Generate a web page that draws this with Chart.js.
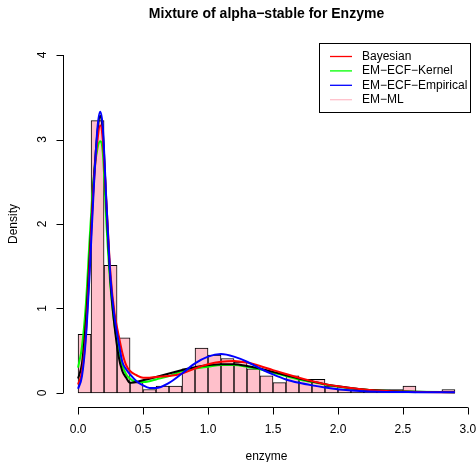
<!DOCTYPE html>
<html>
<head>
<meta charset="utf-8">
<script src="https://cdn.jsdelivr.net/npm/chart.js@4/dist/chart.umd.min.js"></script>
<style>
  html, body { margin: 0; padding: 0; background: #fff; }
  #wrap { width: 476px; height: 462px; position: relative; }
</style>
</head>
<body>
<div id="wrap"><canvas id="chart"></canvas></div>
<script>
// histogram of enzyme (bin edges and densities)
const breaks = [0, 0.1, 0.2, 0.3, 0.4, 0.5, 0.6, 0.7, 0.8, 0.9, 1.0, 1.1, 1.2, 1.3, 1.4,
  1.5, 1.6, 1.7, 1.8, 1.9, 2.0, 2.1, 2.2, 2.3, 2.4, 2.5, 2.6, 2.7, 2.8, 2.9];
const density = [0.694, 3.224, 1.510, 0.653, 0.122, 0.041, 0.082, 0.082, 0.286, 0.531,
  0.449, 0.408, 0.367, 0.286, 0.204, 0.122, 0.204, 0.163, 0.163, 0.082,
  0.041, 0.041, 0.041, 0.041, 0.041, 0.082, 0, 0, 0.041];

// fitted densities
const gridX = [0, 0.03, 0.06, 0.09, 0.12, 0.15, 0.17, 0.19, 0.22, 0.25, 0.28, 0.31, 0.34,
  0.37, 0.40, 0.45, 0.5, 0.55, 0.6, 0.7, 0.8, 0.9, 1.0, 1.1, 1.2, 1.3, 1.4, 1.5, 1.6,
  1.7, 1.8, 1.9, 2.0, 2.2, 2.4, 2.6, 2.9];
const bayesian = [0.1, 0.25, 0.7, 1.55, 2.45, 3.0, 3.17, 3.0, 2.2, 1.4, 0.95, 0.7, 0.48,
  0.33, 0.26, 0.21, 0.18, 0.18, 0.19, 0.2, 0.23, 0.29, 0.34, 0.37, 0.38, 0.36, 0.32,
  0.27, 0.225, 0.18, 0.14, 0.105, 0.08, 0.04, 0.02, 0.012, 0.008];
const kernel = [0.3, 0.55, 1.05, 1.85, 2.55, 2.9, 2.98, 2.85, 1.95, 1.25, 0.8, 0.55, 0.33,
  0.22, 0.17, 0.13, 0.13, 0.14, 0.16, 0.2, 0.26, 0.29, 0.31, 0.33, 0.33, 0.31, 0.28,
  0.24, 0.2, 0.16, 0.13, 0.1, 0.075, 0.04, 0.022, 0.014, 0.01];
const empirical = [0.05, 0.2, 0.65, 1.45, 2.4, 3.15, 3.33, 3.15, 2.2, 1.35, 0.9, 0.62, 0.37,
  0.28, 0.22, 0.14, 0.09, 0.06, 0.06, 0.12, 0.23, 0.35, 0.43, 0.46, 0.43, 0.37, 0.29,
  0.22, 0.16, 0.12, 0.09, 0.065, 0.045, 0.02, 0.012, 0.01, 0.008];
const mlX = [0, 0.03, 0.06, 0.09, 0.12, 0.15, 0.17, 0.19, 0.22, 0.25, 0.28, 0.31, 0.34,
  0.37, 0.40, 0.47, 0.85, 0.95, 1.1, 1.2, 1.3, 1.4, 1.5, 1.6, 1.7, 1.8, 1.9, 2.0,
  2.2, 2.4, 2.6, 2.9];
const emML = [0.17, 0.35, 0.85, 1.65, 2.5, 3.1, 3.28, 3.1, 2.15, 1.3, 0.8, 0.45, 0.26,
  0.18, 0.12, 0.14, 0.29, 0.32, 0.34, 0.34, 0.32, 0.29, 0.25, 0.21, 0.17, 0.135, 0.105,
  0.08, 0.042, 0.023, 0.014, 0.01];

const xTicks = [0, 0.5, 1.0, 1.5, 2.0, 2.5, 3.0];
const xTickLabels = ["0.0", "0.5", "1.0", "1.5", "2.0", "2.5", "3.0"];
const yTicks = [0, 1, 2, 3, 4];
const yTickLabels = ["0", "1", "2", "3", "4"];

const legendNames = ["Bayesian", "EM\u2212ECF\u2212Kernel", "EM\u2212ECF\u2212Empirical", "EM\u2212ML"];
const legendColors = ["#ff0000", "#00ff00", "#0000ff", "#ffc0cb"];

const FONT = '"Liberation Sans", Arial, Helvetica, sans-serif';

function pts(xs, ys) {
  return xs.map((x, i) => ({ x: x, y: ys[i] }));
}

function curve(label, xs, ys, color, order) {
  return {
    type: "line", label: label, data: pts(xs, ys), borderColor: color,
    borderWidth: 2, pointRadius: 0, fill: false, order: order,
    cubicInterpolationMode: "monotone",
  };
}

const histData = density.map((d, i) => ({ x: (breaks[i] + breaks[i + 1]) / 2, y: d }));

// R-style axes, title and legend drawn on top of the chart area
const rDecor = {
  id: "rDecor",
  afterDraw(chart) {
    const ctx = chart.ctx;
    const xs = chart.scales.x, ys = chart.scales.y;
    const area = chart.chartArea;
    const cx = (area.left + area.right) / 2;
    ctx.save();
    ctx.strokeStyle = "#000";
    ctx.fillStyle = "#000";
    ctx.lineWidth = 1;

    // x axis
    const axY = Math.round(area.bottom) + 0.5;
    ctx.beginPath();
    ctx.moveTo(xs.getPixelForValue(xTicks[0]), axY);
    ctx.lineTo(xs.getPixelForValue(xTicks[xTicks.length - 1]), axY);
    xTicks.forEach((t) => {
      const px = Math.round(xs.getPixelForValue(t)) + 0.5;
      ctx.moveTo(px, axY);
      ctx.lineTo(px, axY + 7);
    });
    ctx.stroke();
    ctx.font = "12px " + FONT;
    ctx.textAlign = "center";
    ctx.textBaseline = "middle";
    xTicks.forEach((t, i) => ctx.fillText(xTickLabels[i], xs.getPixelForValue(t), axY + 22));
    ctx.fillText("enzyme", cx, axY + 49);

    // y axis
    const axX = Math.round(area.left) + 0.5;
    ctx.beginPath();
    ctx.moveTo(axX, ys.getPixelForValue(yTicks[0]));
    ctx.lineTo(axX, ys.getPixelForValue(yTicks[yTicks.length - 1]));
    yTicks.forEach((t) => {
      const py = Math.round(ys.getPixelForValue(t)) + 0.5;
      ctx.moveTo(axX, py);
      ctx.lineTo(axX - 7, py);
    });
    ctx.stroke();
    yTicks.forEach((t, i) => {
      ctx.save();
      ctx.translate(axX - 21, ys.getPixelForValue(t));
      ctx.rotate(-Math.PI / 2);
      ctx.fillText(yTickLabels[i], 0, 0);
      ctx.restore();
    });
    ctx.save();
    ctx.translate(14, (area.top + area.bottom) / 2);
    ctx.rotate(-Math.PI / 2);
    ctx.fillText("Density", 0, 0);
    ctx.restore();

    // title
    ctx.font = "bold 14px " + FONT;
    ctx.fillText("Mixture of alpha\u2212stable for Enzyme", cx, 14);

    // legend box (top right)
    const bx = 319.5, by = 43.5, bw = 151, bh = 69;
    ctx.strokeStyle = "#000";
    ctx.strokeRect(bx, by, bw, bh);
    ctx.font = "12px " + FONT;
    ctx.textAlign = "left";
    legendNames.forEach((name, i) => {
      const ly = 56.5 + i * 14.4;
      ctx.strokeStyle = legendColors[i];
      ctx.lineWidth = 1.3;
      ctx.beginPath();
      ctx.moveTo(330, ly);
      ctx.lineTo(352, ly);
      ctx.stroke();
      ctx.fillStyle = "#000";
      ctx.fillText(name, 362, ly);
    });
    ctx.restore();
  },
};

new Chart(document.getElementById("chart"), {
  type: "bar",
  data: {
    datasets: [
      curve("EM-ECF-Empirical", gridX, empirical, "#0000ff", 1),
      curve("Bayesian", gridX, bayesian, "#ff0000", 2),
      curve("EM-ML", mlX, emML, "#000000", 3),
      curve("EM-ECF-Kernel", gridX, kernel, "#00ff00", 4),
      {
        type: "bar", label: "enzyme", data: histData, order: 5,
        backgroundColor: "#ffc0cb", borderColor: "#000", borderWidth: 1,
        borderSkipped: false, barPercentage: 1, categoryPercentage: 1, grouped: false,
      },
    ],
  },
  options: {
    responsive: true, maintainAspectRatio: false, animation: false,
    devicePixelRatio: 1,
    layout: { padding: { left: 63, right: 6, top: 41.5, bottom: 55.5 } },
    scales: {
      x: { type: "linear", min: -0.116, max: 3.016, offset: false, display: false },
      y: { type: "linear", min: -0.16, max: 4.16, display: false },
    },
    plugins: { legend: { display: false }, title: { display: false }, tooltip: { enabled: false } },
  },
  plugins: [rDecor],
});
</script>
</body>
</html>
